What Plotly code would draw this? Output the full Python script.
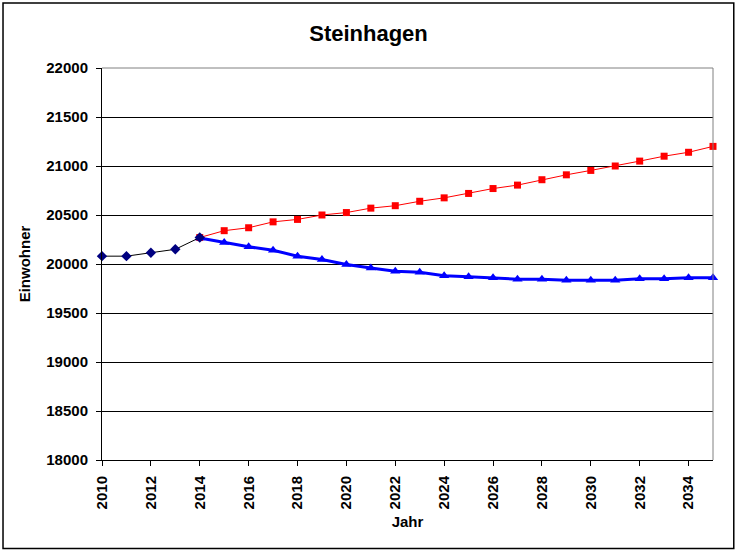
import plotly.graph_objects as go

# observed population 2010-2014
years_hist = [2010, 2011, 2012, 2013, 2014]
pop_hist = [20080, 20080, 20115, 20150, 20270]

# forecast years
years_fc = list(range(2014, 2036))

# upper forecast (red squares)
pop_high = [20270, 20340, 20370, 20430, 20455, 20500, 20525, 20570, 20595,
            20640, 20675, 20720, 20770, 20805, 20860, 20910, 20955, 21000,
            21050, 21100, 21140, 21200]

# lower forecast (blue triangles)
pop_low = [20265, 20220, 20175, 20140, 20080, 20045, 19995, 19960, 19925,
           19915, 19880, 19870, 19860, 19845, 19845, 19835, 19835, 19835,
           19850, 19850, 19860, 19860]

font = "Liberation Sans, Arial, sans-serif"

fig = go.Figure()

fig.add_trace(go.Scatter(
    x=years_fc, y=pop_high, mode="lines+markers",
    line=dict(color="#ff0000", width=1),
    marker=dict(symbol="square", size=7, color="#ff0000"),
    showlegend=False, cliponaxis=False
))

fig.add_trace(go.Scatter(
    x=years_fc, y=pop_low, mode="lines+markers",
    line=dict(color="#0000ff", width=3),
    marker=dict(symbol="triangle-up", size=9, color="#0000ff"),
    showlegend=False, cliponaxis=False
))

fig.add_trace(go.Scatter(
    x=years_hist, y=pop_hist, mode="lines+markers",
    line=dict(color="#000000", width=1),
    marker=dict(symbol="diamond", size=8, color="#000080"),
    showlegend=False, cliponaxis=False
))

# outer frame around the whole chart
fig.add_shape(type="rect", xref="paper", yref="paper",
              x0=-0.162, x1=1.034, y0=-0.226, y1=1.166,
              line=dict(color="#000000", width=1.5), layer="below")

fig.update_layout(
    width=737, height=551,
    margin=dict(l=102, r=24, t=68, b=91),
    paper_bgcolor="white", plot_bgcolor="white",
    title=dict(text="<b>Steinhagen</b>", x=0.5, xanchor="center",
               xref="container", y=0.94, yanchor="middle",
               font=dict(family=font, size=22, color="black")),
    font=dict(family=font, color="black"),
    xaxis=dict(
        range=[2010, 2035], tickmode="linear", tick0=2010, dtick=2,
        tickangle=-90, ticks="outside", ticklen=5, tickcolor="black",
        ticklabelstandoff=4,
        showline=True, linecolor="black", linewidth=1, mirror=False,
        showgrid=False, zeroline=False,
        tickfont=dict(family=font, size=15, color="black", weight="bold"),
        title=dict(text="<b>Jahr</b>", standoff=8,
                   font=dict(family=font, size=15, color="black")),
    ),
    yaxis=dict(
        range=[18000, 22000], tickmode="linear", tick0=18000, dtick=500,
        tickformat="d",
        ticks="outside", ticklen=5, tickcolor="black",
        ticklabelstandoff=5,
        showline=True, linecolor="black", linewidth=1,
        showgrid=True, gridcolor="#000000", gridwidth=1, zeroline=False,
        tickfont=dict(family=font, size=15, color="black", weight="bold"),
        title=dict(text="<b>Einwohner</b>", standoff=12,
                   font=dict(family=font, size=15, color="black")),
    ),
)

# gray right/top border of the plot area
fig.add_shape(type="line", xref="paper", yref="paper", x0=1, x1=1, y0=0, y1=1,
              line=dict(color="#808080", width=1))
fig.add_shape(type="line", xref="paper", yref="paper", x0=0, x1=1, y0=1, y1=1,
              line=dict(color="#808080", width=1))

fig.write_html("out.html", config={"displayModeBar": False},
               post_script="document.body.style.margin='0';")
